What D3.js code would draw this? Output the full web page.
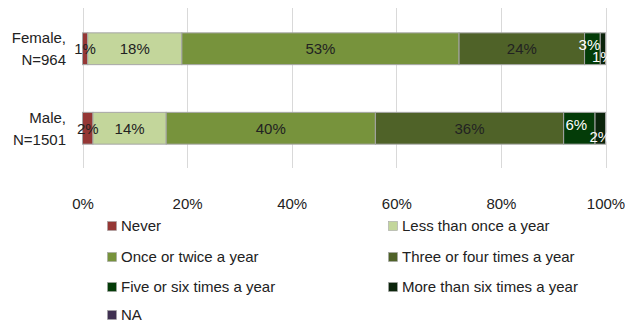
<!DOCTYPE html>
<html>
<head>
<meta charset="utf-8">
<script src="https://cdn.jsdelivr.net/npm/d3@7"></script>
<style>
  html, body { margin: 0; padding: 0; background: #fff; }
  svg { display: block; font-family: "Liberation Sans", Arial, sans-serif; }
</style>
</head>
<body>
<svg id="chart" width="625" height="322"></svg>
<script>
// Survey groups (two-line labels) and response categories
const groups = ["Female", "Male"];
const groupLines = [["Female,", "N=964"], ["Male,", "N=1501"]];
const categories = [
  "Never", "Less than once a year", "Once or twice a year",
  "Three or four times a year", "Five or six times a year",
  "More than six times a year", "NA"
];
const colors = ["#953735", "#c3d69b", "#77933c", "#4f6228", "#043c08", "#0b240b", "#403152"];
const labelColors = ["#222", "#222", "#222", "#222", "#fff", "#fff", "#fff"];

// Share of respondents (%) per category
const femaleValues = [1, 18, 53, 24, 3, 1, 0];
const maleValues = [2, 14, 40, 36, 6, 2, 0];
const tickValues = [0, 20, 40, 60, 80, 100];

const seriesByGroup = [femaleValues, maleValues];

const svg = d3.select("#chart");
const FONT = 15;

const x = d3.scaleLinear().domain([0, 100]).range([82.5, 605.5]);
const y = d3.scaleBand().domain(groups).range([8, 169]).paddingInner(0.6).paddingOuter(0.3125);

// vertical gridlines
svg.append("g")
  .selectAll("line")
  .data(tickValues)
  .join("line")
  .attr("x1", d => Math.round(x(d)) + 0.5)
  .attr("x2", d => Math.round(x(d)) + 0.5)
  .attr("y1", 8)
  .attr("y2", 168)
  .attr("stroke", "#d9d9d9")
  .attr("stroke-width", 1);

// x axis tick labels
const xAxis = d3.axisBottom(x).tickValues(tickValues).tickFormat(d => d + "%").tickSize(0).tickPadding(0);
const xg = svg.append("g").attr("transform", "translate(0,197)").call(xAxis);
xg.select(".domain").remove();
xg.selectAll("text")
  .attr("font-size", FONT)
  .attr("font-family", "Liberation Sans, Arial, sans-serif")
  .attr("fill", "#222")
  .attr("dy", "0.8em");

// stacked data
const rows = groups.map((g, gi) => {
  let acc = 0;
  return seriesByGroup[gi].map((v, ci) => {
    const seg = { group: g, ci, value: v, x0: acc, x1: acc + v };
    acc += v;
    return seg;
  });
});

const segs = rows.flat().filter(d => d.value > 0);

// bars
svg.append("g")
  .selectAll("rect")
  .data(segs)
  .join("rect")
  .attr("x", d => x(d.x0))
  .attr("width", d => x(d.x1) - x(d.x0))
  .attr("y", d => y(d.group))
  .attr("height", y.bandwidth())
  .attr("fill", d => colors[d.ci])
  .attr("stroke", "#a6a6a6")
  .attr("stroke-width", 1);

// data labels: when the last segment is too narrow, its label drops
// below centre and the one before it is lifted so they don't collide
const labelG = svg.append("g");
rows.forEach(row => {
  const visible = row.filter(d => d.value > 0);
  const tmp = labelG.append("text").attr("font-size", FONT).text("00%");
  const labelW = tmp.node().getComputedTextLength();
  tmp.remove();
  const last = visible[visible.length - 1];
  const lastNarrow = (x(last.x1) - x(last.x0)) < labelW;
  visible.forEach((d, i) => {
    let dy = 0, dx = 0;
    if (lastNarrow && i === visible.length - 1) { dy = 8; }
    else if (lastNarrow && i === visible.length - 2) { dy = -4; dx = -3; }
    labelG.append("text")
      .attr("x", (x(d.x0) + x(d.x1)) / 2 + dx)
      .attr("y", y(d.group) + y.bandwidth() / 2 + dy)
      .attr("dy", "0.36em")
      .attr("text-anchor", "middle")
      .attr("font-size", FONT)
      .attr("fill", labelColors[d.ci])
      .text(d.value + "%");
  });
});

// category labels on the left
const yl = svg.append("g");
groups.forEach((g, gi) => {
  const cy = y(g) + y.bandwidth() / 2;
  groupLines[gi].forEach((line, li) => {
    yl.append("text")
      .attr("x", 66)
      .attr("y", cy - 11 + li * 22)
      .attr("dy", "0.36em")
      .attr("text-anchor", "end")
      .attr("font-size", FONT)
      .attr("fill", "#222")
      .text(line);
  });
});

// legend, two columns
const legend = svg.append("g");
const colX = [107, 388];
const rowY = [226, 257, 287, 315];
categories.forEach((c, i) => {
  const cx = colX[i % 2];
  const cy = rowY[Math.floor(i / 2)];
  const item = legend.append("g").attr("transform", `translate(${cx},${cy})`);
  item.append("rect")
    .attr("x", 0.5).attr("y", -4.5)
    .attr("width", 9).attr("height", 9)
    .attr("fill", colors[i])
    .attr("stroke", "#a6a6a6")
    .attr("stroke-width", 0.6);
  item.append("text")
    .attr("x", 14)
    .attr("y", 0)
    .attr("dy", "0.36em")
    .attr("font-size", FONT)
    .attr("fill", "#222")
    .text(c);
});
</script>
</body>
</html>
